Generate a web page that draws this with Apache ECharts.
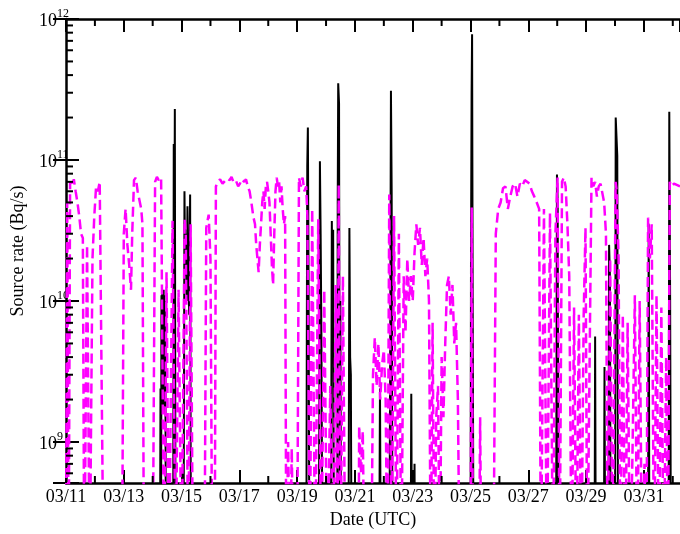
<!DOCTYPE html>
<html>
<head>
<meta charset="utf-8">
<script src="https://cdn.jsdelivr.net/npm/echarts@6/dist/echarts.min.js"></script>
<style>html,body{margin:0;padding:0;background:#fff}#c{width:680px;height:534px}</style>
</head>
<body>
<div id="c"></div>
<script>
// Time in hours since 03/11 00:00 UTC, value in Bq/s (1e8 = below axis)
const blackRate = [
[0,1e8],
[78,1e8],[78.5,2.4e9],[78.9,1e8],[79.3,1.1e10],[79.6,1.6e9],[79.9,1.2e10],[80.2,1.7e9],[80.5,1.1e10],[80.8,1.6e9],[81.1,1.2e10],[81.4,1.8e9],[81.7,1.1e10],[82,2e9],[82.3,1e10],[82.6,2.5e9],[83,1e8],
[89,1e8],[89.5,1.3e11],[90,2e10],[90.4,2.3e11],[91,1e8],
[97.6,1e8],[98.4,6e10],[99,1.5e10],[99.6,3e10],[100.3,1e10],[100.9,4.7e10],[101.6,1.5e10],[102.3,8e9],[103.1,5.7e10],[103.8,1e8],
[199.6,1e8],[200,4.9e9],[200.4,9e10],[200.9,1.7e11],[201.5,1.2e10],[202.2,1e8],
[210,1e8],[210.9,9.8e10],[211.5,3e10],[212.2,5e9],[213,1e8],
[220,1e8],[220.8,3.7e10],[221.3,8e9],[221.9,3.2e10],[222.6,1e8],
[225.3,1e8],[225.7,5e10],[226.1,3.5e11],[226.8,2.5e11],[227.4,1e8],[227.9,1e10],[228.5,1e8],
[234.6,1e8],[235.4,3.3e10],[236,4e9],[236.6,3e9],[237.2,1e8],
[260.1,1e8],[260.8,2.4e9],[261.5,1e8],
[268.6,1e8],[269.2,3e9],[269.9,3.1e11],[270.5,6e10],[271.2,1e8],
[286.2,1e8],[286.8,2.2e9],[287.4,1e8],
[289.1,1e8],[289.5,7e8],[289.9,1e8],
[336,1e8],[336.4,2e10],[336.9,3e11],[337.3,7.8e11],[337.8,1e10],[338.5,1e8],
[407,1e8],[407.8,7.9e10],[408.4,5e10],[409.1,1e8],
[439,1e8],[439.5,5.6e9],[440.1,1e8],
[446.7,1e8],[447.3,3.4e9],[447.9,1e8],
[450.5,1e8],[451.1,2.5e10],[451.8,1.5e10],[452.4,1e8],
[456,1e8],[456.6,2e11],[457.2,1.5e11],[457.9,1.07e11],[458.6,1e8],
[483.4,1e8],[484,3.5e10],[484.6,1e8],
[500.5,1e8],[501.1,2.2e11],[501.8,1e10],[502.5,1e8],[510,1e8]
];

const magentaRate = [
[0,1e8],[1,5e10],[2.2,1e8],[3.4,7e10],[5,6.5e10],[6.5,7.3e10],[8,6e10],[9.5,5e10],[11,4e10],[12.5,3e10],[14,2.8e10],[15.2,1e8],[17.5,2.5e10],[19.7,1e8],[22,2e10],[23.5,4e10],[25,6.5e10],[26.5,6e10],[28,7e10],[29.5,7.2e10],[31.2,1e8],
[46.5,1e8],[48,3e10],[49.5,4.5e10],[51,2.5e10],[52.5,1.8e10],[54,1.2e10],[55,3e10],[56.5,7.2e10],[58,7.5e10],[59.5,6e10],[61,6e10],[62.5,4.5e10],[63.5,3.5e10],[64.8,1e8],
[72,1e8],[74,7e10],[75.5,7.6e10],[77,7.2e10],[79,7.5e10],[80.5,7.3e10],[81.5,1e8],[83.5,1.6e10],[85.5,1e8],
[86,1e8],[88.5,3.7e10],[91,1e8],[93.5,1.2e10],[96,1e8],[98.5,3.8e10],[99.5,3e10],[101.5,1e8],[103.5,3.5e10],[105.5,1e8],
[115,1e8],[116.5,3.3e10],[118.5,4.1e10],[120,2e10],[121.5,1e8],[123.5,1e8],[124.5,6.5e10],
[126.5,7e10],[128,7.3e10],[130,6.8e10],[132,7.1e10],[134,7.4e10],[136,7.2e10],[137.5,7.6e10],[139,7e10],[141,7.2e10],[143,6.5e10],[144.5,6.8e10],[146,7.3e10],[148,7e10],[149.5,7.3e10],[151,6.5e10],[152.5,6e10],[154,5e10],[155.5,4e10],[157,3.5e10],[158,2.5e10],[159,2e10],[160,1.6e10],[161,2.5e10],[162,3.5e10],[163,5e10],[164,6e10],[165,4.5e10],[166,6.5e10],[167,7e10],[168,6e10],[169,5e10],[170,3e10],[171,1.8e10],[172,1.3e10],[173,3e10],[174,6e10],[175,7.5e10],[176,6.5e10],[177,7e10],[178,5e10],[179,6.5e10],[180,4.5e10],[181,3.5e10],[182,4e10],[183,1e8],
[184.5,1e9],[186,1e8],[187.5,9e8],[189,1e8],[192,1e8],
[193.5,7.5e10],[195,6.5e10],[196.5,7.5e10],[198,6e10],[199.5,6.5e10],[200.5,4e10],[202.5,1e8],[204.5,4.5e10],[207,1e8],[209.5,3.8e10],[212,1e8],[214.5,1.2e10],[217,1e8],[219.5,2.5e9],[222,1e8],[224,1.3e10],[225.5,1e8],[226.5,6.7e10],[228,1e8],[230,1.5e10],[232,1e8],
[243,1e8],[243.5,1.3e9],[245,6e8],[246.5,1.2e9],[248,1e8],
[253.5,1e8],[255,3e9],[256.5,5.5e9],[258,2.5e9],[259.5,5e9],[261,2e9],[262.5,3.5e9],[264,4.5e9],[265.5,2e9],[267,1e8],
[268.5,5.7e10],[270.5,1e8],[272.5,4e10],[274.5,1e8],[276.5,3e10],[278.5,1e8],[280.5,1.5e10],[282,6e9],
[283.5,2e10],[285,1e10],[286.5,1.5e10],[288,1e10],[289.5,2.2e10],[291,3.5e10],[292.5,2.5e10],[294,3.3e10],[295.5,1.8e10],[297,2.8e10],[298.5,1.5e10],[300,2e10],[301.5,1e10],[303,1e8],[304.5,7e9],[306,1e8],
[307.5,1.5e9],[309,2.5e9],[310.5,1e8],[312,4e9],[313.5,1.5e9],[315,5e9],[316.5,1.3e10],[318,1.5e10],[319.5,8e9],[321,1.3e10],[322.5,5e9],[324,7e9],[325.5,2e9],[327,1e8],
[336,1e8],[337,4.6e10],[338,1e8],
[343,1e8],[344,1.5e9],[345,1e8],
[355,1e8],[357,3e10],[359,4.5e10],[361,5e10],[363,6.3e10],[365,6.5e10],[367,4.5e10],[369,5.5e10],[371,6.5e10],[373,6.8e10],[375,5.5e10],[377,6.8e10],[379,6.5e10],[381,7.2e10],[383,7e10],[385,6.8e10],[387,6e10],[389,5.5e10],[391,5e10],[393,4.5e10],[394.5,1e8],[397,4.5e10],[399.5,1e8],[402,4.2e10],[404.5,1e8],[406.5,3e10],
[408.3,7.5e10],[410,1e8],[412,7e10],[413.5,7.5e10],[415,6.5e10],[416.5,3.5e10],[418,1.5e10],[420,1e8],[422,9e9],[424,1e8],[426,8e9],[428,1e8],[430,8e9],[431.5,3.3e10],[433,1e8],
[434.5,1e8],[436.5,7.5e10],[438,6.5e10],[439.5,7e10],[441,5.5e10],[442.5,6.5e10],[444,6.8e10],[445.5,7e10],[447,5e10],[448.5,3e10],[450,1e8],[452,2e10],[454,1e8],[456.5,7e10],[457.5,6e10],
[459,2e10],[460.5,1e8],[462.5,8e9],[464.5,1e8],[466.5,7e9],[468.5,1e8],[470.5,8e8],[472.5,1.1e10],[474.5,1e8],[476.5,1e10],[478.5,1e8],[480.5,7e8],[482,1e8],[483.5,3.9e10],[485,2e10],[486.5,3.5e10],[488.5,1e8],[490.5,1.1e10],[492.5,1e8],[494.5,9e9],[496.5,1e8],[498.5,4e9],[500,1e8],[501.5,7e10],[503,6.5e10],[505,6.8e10],[510,6.5e10]
];

const xMinorDays = [1,3,5,7,9,11,13,15,17,19,21];
const yMinorTicks = [6e8,7e8,8e8,9e8,2e9,3e9,4e9,5e9,6e9,7e9,8e9,9e9,2e10,3e10,4e10,5e10,6e10,7e10,8e10,9e10,2e11,3e11,4e11,5e11,6e11,7e11,8e11,9e11];
const X_MIN = 0, X_MAX = 510, Y_MIN = 5.12e8, Y_MAX = 1e12;
const FONT = 'Liberation Serif';

const chart = echarts.init(document.getElementById('c'), null, {renderer:'canvas'});
const tickStyle = {stroke:'#000', lineWidth:2};
const axisLineStyle = {color:'#000', width:2.5};

function dateLabel(v){
  if (v % 48 !== 0) return '';
  const day = 11 + v/24;
  return '03/' + (day < 10 ? '0' + day : day);
}
function expLabel(v){
  const e = Math.log10(v), r = Math.round(e);
  if (Math.abs(e - r) > 1e-6) return '';
  return '{a|10}{b|' + r + '}';
}

chart.setOption({
  animation:false,
  backgroundColor:'#fff',
  grid:{left:66, right:-8, top:19, bottom:50, containLabel:false},
  xAxis:[{
    type:'value', min:X_MIN, max:X_MAX, interval:48, position:'bottom',
    axisLine:{onZero:false, lineStyle:axisLineStyle},
    axisTick:{inside:true, length:13, lineStyle:{color:'#000', width:2}},
    axisLabel:{formatter:dateLabel, fontFamily:FONT, fontSize:18, color:'#000', margin:5, showMaxLabel:false},
    splitLine:{show:false},
    name:'Date (UTC)', nameLocation:'middle', nameGap:28,
    nameTextStyle:{fontFamily:FONT, fontSize:18, color:'#000'}
  },{
    type:'value', min:X_MIN, max:X_MAX, interval:48, position:'top',
    axisLine:{onZero:false, lineStyle:axisLineStyle},
    axisTick:{inside:true, length:13, lineStyle:{color:'#000', width:2}},
    axisLabel:{show:false}, splitLine:{show:false}
  }],
  yAxis:[{
    type:'log', logBase:10, min:Y_MIN, max:Y_MAX, position:'left',
    axisLine:{onZero:false, lineStyle:axisLineStyle},
    axisTick:{inside:true, length:13, lineStyle:{color:'#000', width:2}},
    axisLabel:{formatter:expLabel, align:'left', margin:27,
      rich:{
        a:{fontFamily:FONT, fontSize:18, color:'#000', verticalAlign:'bottom', lineHeight:22},
        b:{fontFamily:FONT, fontSize:12, color:'#000', verticalAlign:'top', lineHeight:12}
      }},
    splitLine:{show:false},
    name:'Source rate (Bq/s)', nameLocation:'middle', nameGap:39, nameRotate:90,
    nameTextStyle:{fontFamily:FONT, fontSize:18, color:'#000'}
  },{
    type:'log', logBase:10, min:Y_MIN, max:Y_MAX, position:'right',
    axisLine:{show:false},
    axisTick:{inside:true, length:13, lineStyle:{color:'#000', width:2}},
    axisLabel:{show:false}, splitLine:{show:false}
  }],
  series:[
    {name:'black', type:'line', data:blackRate, symbol:'none', showSymbol:false,
     lineStyle:{color:'#000', width:2}, z:2, clip:true},
    {name:'magenta', type:'line', data:magentaRate, symbol:'none', showSymbol:false,
     lineStyle:{color:'#ff00ff', width:2.5, type:[10,5]}, z:3, clip:true},
    {type:'custom', silent:true, z:5,
     data:yMinorTicks.map(v => [X_MIN, v]),
     renderItem:(params, api) => {
       const p = api.coord([X_MIN, api.value(1)]);
       return {type:'line', shape:{x1:p[0], y1:p[1], x2:p[0]+7, y2:p[1]}, style:tickStyle};
     }},
    {type:'custom', silent:true, z:5,
     data:xMinorDays.map(d => [d*24, Y_MIN]),
     renderItem:(params, api) => {
       const b = api.coord([api.value(0), Y_MIN]);
       const t = api.coord([api.value(0), Y_MAX]);
       return {type:'group', children:[
         {type:'line', shape:{x1:b[0], y1:b[1], x2:b[0], y2:b[1]-7}, style:tickStyle},
         {type:'line', shape:{x1:t[0], y1:t[1], x2:t[0], y2:t[1]+7}, style:tickStyle}
       ]};
     }}
  ]
});
</script>
</body>
</html>
